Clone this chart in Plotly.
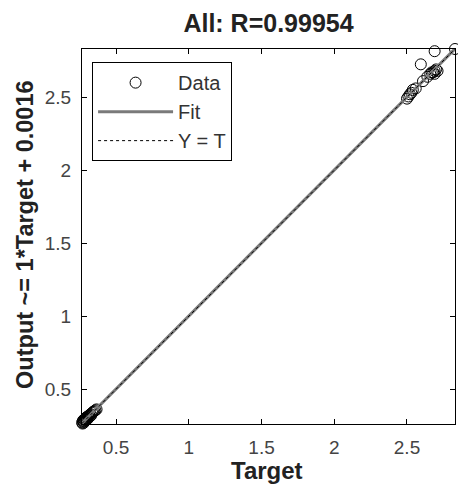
import plotly.graph_objects as go

# ---- data ----
target_low = [0.267, 0.270, 0.272, 0.275, 0.278, 0.280, 0.283, 0.286, 0.290, 0.292,
              0.295, 0.298, 0.300, 0.304, 0.308, 0.312, 0.316, 0.320, 0.325, 0.330,
              0.336, 0.342, 0.350, 0.358, 0.366]
output_low = [0.272, 0.265, 0.285, 0.278, 0.270, 0.292, 0.280, 0.296, 0.286, 0.303,
              0.292, 0.310, 0.300, 0.296, 0.315, 0.306, 0.322, 0.314, 0.330, 0.322,
              0.338, 0.345, 0.350, 0.356, 0.362]
target_high = [2.500, 2.510, 2.520, 2.530, 2.540, 2.560, 2.610, 2.640, 2.660, 2.670,
               2.680, 2.690, 2.700, 2.690, 2.710, 2.595, 2.690, 2.830]
output_high = [2.490, 2.505, 2.520, 2.530, 2.550, 2.560, 2.610, 2.640, 2.660, 2.670,
               2.670, 2.680, 2.690, 2.660, 2.680, 2.725, 2.815, 2.830]

target = target_low + target_high
output = output_low + output_high

fit_slope = 1.0
fit_intercept = 0.0016
r_value = "0.99954"

x_ticks = [0.5, 1, 1.5, 2, 2.5]
y_ticks = [0.5, 1, 1.5, 2, 2.5]
axis_min = 0.266
axis_max = 2.83

# ---- figure ----
fig = go.Figure()

fig.add_trace(go.Scatter(
    x=target, y=output, mode="markers", name="Data",
    marker=dict(symbol="circle-open", size=11, color="black", line=dict(width=1, color="black")),
    cliponaxis=False,
))

fit_x = [axis_min, axis_max]
fit_y = [fit_slope * v + fit_intercept for v in fit_x]
fig.add_trace(go.Scatter(
    x=fit_x, y=fit_y, mode="lines", name="Fit",
    line=dict(color="#7a7a7a", width=3),
))

fig.add_trace(go.Scatter(
    x=fit_x, y=fit_x, mode="lines", name="Y = T",
    line=dict(color="black", width=1, dash="dot"),
))

font_family = "Liberation Sans, Arial, sans-serif"

fig.update_layout(
    width=458, height=486,
    margin=dict(l=82, r=3, t=49, b=62, autoexpand=False),
    paper_bgcolor="white", plot_bgcolor="white",
    font=dict(family=font_family, color="#333333", size=18),
    title=dict(text="<b>All: R=" + r_value + "</b>", x=0.5, xref="paper", xanchor="center",
               y=1 - 23 / 486, yref="container", yanchor="middle",
               font=dict(size=25, color="#222222", family=font_family)),
    showlegend=True,
    legend=dict(x=0.027, y=0.965, xanchor="left", yanchor="top",
                bordercolor="black", borderwidth=1, bgcolor="white",
                font=dict(size=20, color="#333333"), itemwidth=75,
                entrywidth=138, tracegroupgap=0),
    xaxis=dict(range=[axis_min, axis_max], tickvals=x_ticks, ticktext=[str(v) for v in x_ticks],
               ticks="inside", ticklen=5, tickcolor="black", showline=True, linecolor="black",
               linewidth=1, mirror="ticks", showgrid=False, zeroline=False,
               tickfont=dict(size=19, color="#444444"), ticklabelstandoff=6),
    yaxis=dict(range=[0.262, axis_max], tickvals=y_ticks, ticktext=[str(v) for v in y_ticks],
               ticks="inside", ticklen=5, tickcolor="black", showline=True, linecolor="black",
               linewidth=1, mirror="ticks", showgrid=False, zeroline=False,
               tickfont=dict(size=19, color="#444444"), ticklabelstandoff=6),
    annotations=[
        dict(text="<b>Target</b>", x=0.496, y=-0.125, xref="paper", yref="paper",
             xanchor="center", yanchor="middle", showarrow=False,
             font=dict(size=24, color="#222222", family=font_family)),
        dict(text="<b>Output ~= 1*Target + 0.0016</b>", x=-0.153, y=0.504, xref="paper", yref="paper",
             xanchor="center", yanchor="middle", showarrow=False, textangle=-90,
             font=dict(size=23.5, color="#222222", family=font_family)),
    ],
)

fig.write_html("out.html", config={"displayModeBar": False},
               post_script="document.body.style.margin='0';")
